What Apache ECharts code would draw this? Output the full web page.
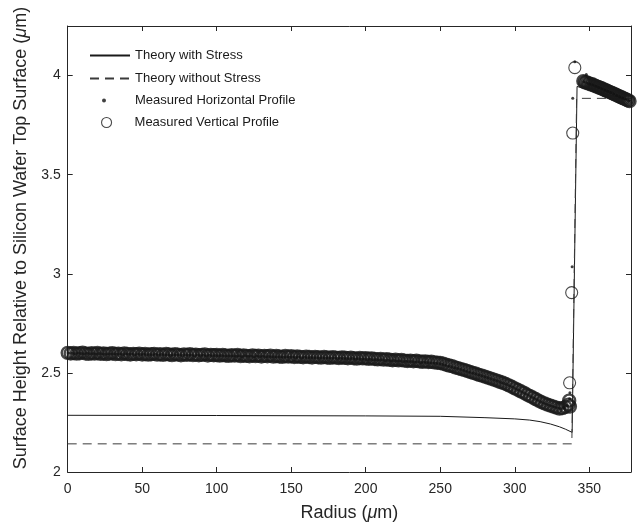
<!DOCTYPE html>
<html>
<head>
<meta charset="utf-8">
<script src="https://cdn.jsdelivr.net/npm/echarts@6/dist/echarts.min.js"></script>
<style>html,body{margin:0;padding:0;background:#fff}#c{width:641px;height:527px}</style>
</head>
<body>
<div id="c"></div>
<script>
// ---- Data ----
const xTicks = [0, 50, 100, 150, 200, 250, 300, 350];
const yTicks = [2, 2.5, 3, 3.5, 4];

const stressX = [0, 100, 200, 250, 280, 300, 310, 317, 324, 330, 334, 338.5, 341.8, 378];
const stressY = [2.286, 2.285, 2.283, 2.281, 2.274, 2.268, 2.262, 2.254, 2.242, 2.228, 2.216, 2.200, 3.945, 3.872];

const noStressX = [0, 338.3, 341.5, 378];
const noStressY = [2.142, 2.142, 3.885, 3.885];

// Measured Horizontal Profile (dots)
const horizX = [1,3,5,7,9,11,13,15,17,19,21,23,25,27,29,31,33,35,37,39,41,43,45,47,49,
51,53,55,57,59,61,63,65,67,69,71,73,75,77,79,81,83,85,87,89,91,93,95,97,99,
101,103,105,107,109,111,113,115,117,119,121,123,125,127,129,131,133,135,137,139,141,143,145,147,149,
151,153,155,157,159,161,163,165,167,169,171,173,175,177,179,181,183,185,187,189,191,193,195,197,199,
201,203,205,207,209,211,213,215,217,219,221,223,225,227,229,231,233,235,237,239,241,243,245,247,249,
251,253,255,257,259,261,263,265,267,269,271,273,275,277,279,281,283,285,287,289,291,293,295,297,299,
301,303,305,307,309,311,313,315,317,319,321,323,325,327,329,331,333,335,
336.8,337,338.5,338.9,340.3,348,
346.5,348.5,350.5,352.5,354.5,356.5,358.5,360.5,362.5,364.5,366.5,368.5,370.5,372.5,374.5,376.5];
const horizY = [2.600,2.599,2.597,2.600,2.598,2.596,2.599,2.597,2.598,2.595,2.598,2.596,2.594,2.597,2.595,2.597,2.594,2.596,2.593,2.596,2.594,2.595,2.592,2.595,2.593,
2.594,2.591,2.593,2.591,2.594,2.590,2.593,2.591,2.592,2.589,2.592,2.590,2.591,2.588,2.591,2.589,2.590,2.587,2.590,2.588,2.589,2.586,2.589,2.587,2.588,
2.586,2.588,2.585,2.587,2.585,2.586,2.584,2.586,2.583,2.586,2.584,2.585,2.582,2.585,2.583,2.584,2.581,2.583,2.581,2.582,2.580,2.582,2.579,2.581,2.579,
2.580,2.578,2.580,2.577,2.579,2.577,2.578,2.576,2.577,2.575,2.577,2.574,2.576,2.574,2.575,2.573,2.574,2.572,2.573,2.571,2.572,2.570,2.571,2.569,2.570,
2.568,2.569,2.566,2.567,2.565,2.566,2.563,2.564,2.561,2.562,2.560,2.561,2.558,2.559,2.557,2.557,2.555,2.556,2.553,2.554,2.552,2.551,2.550,2.548,2.547,
2.543,2.540,2.535,2.532,2.527,2.523,2.519,2.514,2.510,2.505,2.501,2.497,2.492,2.488,2.483,2.478,2.473,2.468,2.463,2.458,2.452,2.447,2.441,2.434,2.427,
2.419,2.412,2.404,2.396,2.388,2.380,2.372,2.364,2.356,2.349,2.343,2.337,2.332,2.327,2.323,2.320,2.325,2.335,
2.370,2.400,3.035,3.885,4.070,4.005,
3.969,3.963,3.957,3.952,3.946,3.940,3.934,3.927,3.921,3.914,3.907,3.900,3.893,3.887,3.880,3.873];

// Measured Vertical Profile (circles) - dense band
const vertX = [0,2,4,6,8,10,12,14,16,18,20,22,24,26,28,30,32,34,36,38,40,42,44,46,48,50,
52,54,56,58,60,62,64,66,68,70,72,74,76,78,80,82,84,86,88,90,92,94,96,98,100,
102,104,106,108,110,112,114,116,118,120,122,124,126,128,130,132,134,136,138,140,142,144,146,148,150,
152,154,156,158,160,162,164,166,168,170,172,174,176,178,180,182,184,186,188,190,192,194,196,198,200,
202,204,206,208,210,212,214,216,218,220,222,224,226,228,230,232,234,236,238,240,242,244,246,248,250,
252,254,256,258,260,262,264,266,268,270,272,
274,276,278,280,282,284,286,288,290,292,294,
296,298,300,302,304,306,308,310,312,314,316,
318,320,322,324,326,328,330,332,334,336,336.5,337,
346,347,348,349,350,351,352,353,354,355,356,357,358,359,360,361,362,363,364,365,366,367,368,369,370,371,372,373,374,375,376,377];
const vertY = [2.601,2.598,2.600,2.597,2.599,2.602,2.598,2.596,2.599,2.597,2.600,2.596,2.598,2.595,2.597,2.599,2.595,2.597,2.594,2.598,2.595,2.593,2.596,2.594,2.597,2.593,
2.595,2.592,2.594,2.596,2.592,2.594,2.591,2.595,2.593,2.590,2.594,2.592,2.589,2.593,2.591,2.594,2.590,2.592,2.589,2.591,2.593,2.588,2.591,2.589,2.590,
2.587,2.590,2.588,2.586,2.589,2.587,2.590,2.585,2.588,2.586,2.584,2.588,2.585,2.587,2.583,2.586,2.584,2.587,2.582,2.585,2.583,2.581,2.585,2.582,2.584,
2.580,2.583,2.581,2.579,2.582,2.580,2.578,2.581,2.579,2.577,2.580,2.578,2.576,2.579,2.577,2.575,2.578,2.576,2.574,2.577,2.574,2.572,2.575,2.573,2.574,
2.571,2.573,2.570,2.568,2.570,2.567,2.569,2.566,2.564,2.566,2.563,2.565,2.562,2.560,2.562,2.559,2.561,2.558,2.556,2.558,2.555,2.556,2.553,2.551,2.550,
2.546,2.541,2.537,2.534,2.528,2.524,2.519,2.515,2.510,2.505,2.500,
2.496,2.490,2.486,2.481,2.476,2.471,2.466,2.461,2.455,2.450,2.444,
2.437,2.430,2.422,2.415,2.407,2.400,2.391,2.384,2.376,2.368,2.360,
2.352,2.346,2.340,2.335,2.330,2.325,2.320,2.322,2.328,2.340,2.360,2.330,
3.972,3.966,3.967,3.961,3.960,3.955,3.956,3.950,3.949,3.944,3.943,3.938,3.937,3.931,3.930,3.925,3.923,3.919,3.916,3.912,3.910,3.905,3.903,3.898,3.896,3.891,3.889,3.885,3.882,3.878,3.875,3.871];

// Measured Vertical Profile (circles) - isolated points on the step
const vertJumpX = [336.8, 338.2, 338.9, 340.3];
const vertJumpY = [2.450, 2.905, 3.710, 4.040];

const zip = (xs, ys) => xs.map((x, i) => [x, ys[i]]);

const AX = '#262626';
const FONT = 'Liberation Sans, Arial, Helvetica, sans-serif';
const chart = echarts.init(document.getElementById('c'), null, {renderer: 'canvas'});

const legendBase = {
  orient: 'vertical', left: 89, itemWidth: 40, itemGap: 6,
  textStyle: {fontFamily: FONT, fontSize: 13, color: '#1a1a1a'},
  selectedMode: false, padding: 0
};

chart.setOption({
  animation: false,
  backgroundColor: '#fff',
  grid: {left: 67.7, right: 10, top: 26, bottom: 55},
  legend: [
    Object.assign({}, legendBase, {top: 49, itemHeight: 10, itemStyle: {opacity: 0}, data: ['Theory with Stress']}),
    Object.assign({}, legendBase, {top: 72, itemHeight: 10, itemStyle: {opacity: 0}, data: ['Theory without Stress']}),
    Object.assign({}, legendBase, {top: 94, left: 102, itemHeight: 4, textStyle: {fontFamily: FONT, fontSize: 13, color: '#1a1a1a', padding: [0, 0, 0, 6]}, data: [{name: 'Measured Horizontal Profile', icon: 'circle'}]}),
    Object.assign({}, legendBase, {top: 116, left: 101, itemHeight: 10, itemStyle: {borderWidth: 1.1}, textStyle: {fontFamily: FONT, fontSize: 13, color: '#1a1a1a', padding: [0, 0, 0, 3]}, data: [{name: 'Measured Vertical Profile', icon: 'circle'}]})
  ],
  xAxis: [{
    type: 'value', min: 0, max: 378, interval: 50,
    name: 'Radius ({i|μ}m)', nameLocation: 'middle', nameGap: 32,
    nameTextStyle: {fontFamily: FONT, fontSize: 18, color: AX,
      rich: {i: {fontFamily: FONT, fontSize: 18, color: AX, fontStyle: 'italic'}}},
    axisLine: {onZero: false, lineStyle: {color: AX, width: 1}},
    axisTick: {inside: true, length: 5, lineStyle: {color: AX}},
    axisLabel: {fontFamily: FONT, fontSize: 14, color: AX, margin: 10,
      formatter: v => (xTicks.includes(v) ? String(v) : '')},
    splitLine: {show: false}
  }, {
    type: 'value', min: 0, max: 378, interval: 50, position: 'top',
    axisLine: {onZero: false, lineStyle: {color: AX, width: 1}},
    axisTick: {inside: true, length: 5, lineStyle: {color: AX}},
    axisLabel: {show: false}, splitLine: {show: false}
  }],
  yAxis: [{
    type: 'value', min: 2, max: 4.25, interval: 0.5,
    name: 'Surface Height Relative to Silicon Wafer Top Surface ({i|μ}m)',
    nameLocation: 'middle', nameGap: 38,
    nameTextStyle: {fontFamily: FONT, fontSize: 18, color: AX, padding: [0, 0, 0, 22],
      rich: {i: {fontFamily: FONT, fontSize: 18, color: AX, fontStyle: 'italic'}}},
    axisLine: {show: true, onZero: false, lineStyle: {color: AX, width: 1}},
    axisTick: {show: true, inside: true, length: 5, lineStyle: {color: AX}},
    axisLabel: {fontFamily: FONT, fontSize: 14, color: AX, margin: 7,
      formatter: v => (yTicks.includes(v) ? String(v) : '')},
    splitLine: {show: false}
  }, {
    type: 'value', min: 2, max: 4.25, interval: 0.5, position: 'right',
    axisLine: {show: true, onZero: false, lineStyle: {color: AX, width: 1}},
    axisTick: {show: true, inside: true, length: 5, lineStyle: {color: AX}},
    axisLabel: {show: false}, splitLine: {show: false}
  }],
  series: [
    {
      name: 'Theory with Stress', type: 'line', data: zip(stressX, stressY),
      showSymbol: false, symbol: 'none', lineStyle: {color: '#1a1a1a', width: 1},
      itemStyle: {color: '#1a1a1a'}, z: 2
    },
    {
      name: 'Theory without Stress', type: 'line', data: zip(noStressX, noStressY),
      showSymbol: false, symbol: 'none', lineStyle: {color: '#3a3a3a', width: 1, type: [9, 6]},
      itemStyle: {color: '#3a3a3a'}, z: 2
    },
    {
      name: 'Measured Horizontal Profile', type: 'scatter', data: zip(horizX, horizY),
      symbol: 'circle', symbolSize: 3, itemStyle: {color: '#111'}, z: 4
    },
    {
      name: 'Measured Vertical Profile', type: 'scatter', data: zip(vertX, vertY),
      symbol: 'circle', symbolSize: 12,
      itemStyle: {color: 'rgba(0,0,0,0)', borderColor: '#1a1a1a', borderWidth: 2.4}, z: 3
    },
    {
      name: 'Measured Vertical Profile', type: 'scatter', data: zip(vertJumpX, vertJumpY),
      symbol: 'circle', symbolSize: 12,
      itemStyle: {color: 'rgba(0,0,0,0)', borderColor: '#1a1a1a', borderWidth: 1.1}, z: 3
    }
  ]
});
</script>
</body>
</html>
